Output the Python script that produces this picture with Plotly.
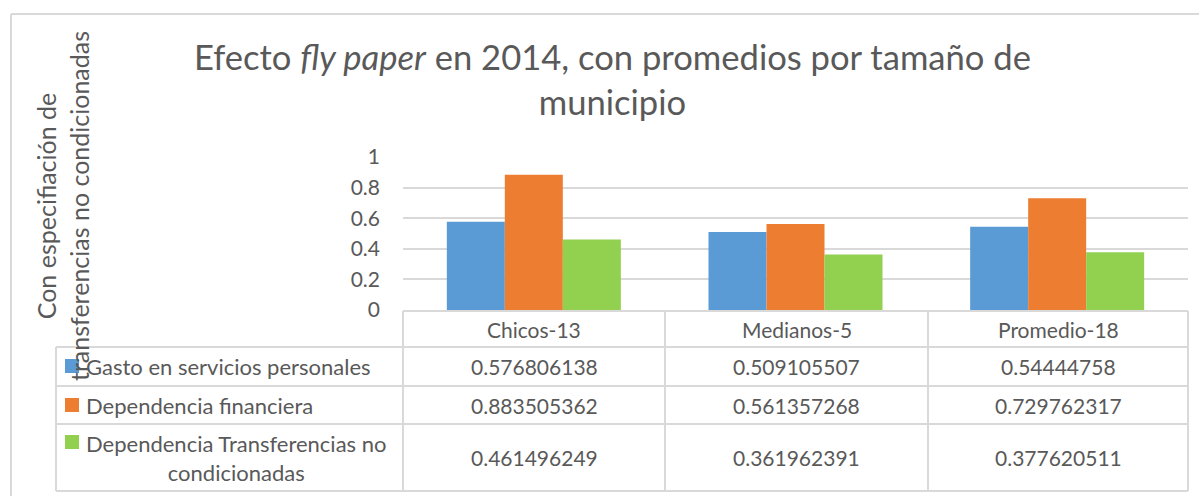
import plotly.graph_objects as go

categories = ["Chicos-13", "Medianos-5", "Promedio-18"]
series_names = [
    "Gasto en servicios personales",
    "Dependencia financiera",
    "Dependencia Transferencias no<br>condicionadas",
]
gasto = [0.576806138, 0.509105507, 0.54444758]
dependencia = [0.883505362, 0.561357268, 0.729762317]
transferencias = [0.461496249, 0.361962391, 0.377620511]
colors = ["#5B9BD5", "#ED7D31", "#92D050"]
y_ticks = [0, 0.2, 0.4, 0.6, 0.8, 1]
y_tick_text = ["0", "0.2", "0.4", "0.6", "0.8", "1"]

W, H = 1199, 496
FONT = "Lato, Carlito, Calibri, sans-serif"
GREY = "#595959"
LINE = "#d9d9d9"


def px(x):
    return x / W


def py(y):
    return 1 - y / H


series_values = [gasto, dependencia, transferencias]

fig = go.Figure()
for name, vals, col in zip(series_names, series_values, colors):
    fig.add_trace(go.Bar(
        x=categories, y=vals, name=name.replace("<br>", " "),
        marker=dict(color=col, line=dict(width=0)),
        showlegend=False,
    ))

plot_left, plot_right = 403, 1188
plot_top, plot_bottom = 157, 310

fig.update_layout(
    width=W, height=H, autosize=False,
    margin=dict(l=0, r=0, t=0, b=0, pad=0, autoexpand=False),
    paper_bgcolor="white", plot_bgcolor="white",
    barmode="group", bargap=0.335, bargroupgap=0,
    showlegend=False,
    font=dict(family=FONT, color=GREY),
    xaxis=dict(domain=[px(plot_left), px(plot_right)], range=[-0.5, 2.5],
               showticklabels=False, showgrid=False, zeroline=False,
               showline=False, ticks="", automargin=False),
    yaxis=dict(domain=[py(plot_bottom), py(plot_top)], range=[0, 1],
               tickvals=y_ticks, ticktext=y_tick_text,
               tickfont=dict(size=21, color=GREY, family=FONT),
               ticklabelstandoff=22, automargin=False,
               showgrid=True, gridcolor=LINE, gridwidth=2,
               zeroline=False, showline=False, ticks=""),
)

shapes = []


def hline(y, x0, x1):
    shapes.append(dict(type="line", xref="paper", yref="paper",
                       x0=px(x0), x1=px(x1), y0=py(y), y1=py(y),
                       line=dict(color=LINE, width=2)))


def vline(x, y0, y1):
    shapes.append(dict(type="line", xref="paper", yref="paper",
                       x0=px(x), x1=px(x), y0=py(y0), y1=py(y1),
                       line=dict(color=LINE, width=2)))


# outer chart border (left and top)
shapes.append(dict(type="line", xref="paper", yref="paper",
                   x0=px(11), x1=px(11), y0=py(14), y1=py(496),
                   line=dict(color=LINE, width=2)))
shapes.append(dict(type="line", xref="paper", yref="paper",
                   x0=px(11), x1=px(1199), y0=py(14), y1=py(14),
                   line=dict(color=LINE, width=2)))

# data table grid
table_left = 56
col_edges = [403, 665, 928, 1188]
row_edges = [311, 347, 386, 424, 491]
hline(row_edges[0], col_edges[0], col_edges[-1])
for y in row_edges[1:]:
    hline(y, table_left, col_edges[-1])
vline(table_left, row_edges[1], row_edges[-1])
for x in col_edges:
    vline(x, row_edges[0], row_edges[-1])

annotations = []

# title
annotations.append(dict(
    text="Efecto <i>fly paper</i> en 2014, con promedios por tamaño de<br>municipio",
    xref="paper", yref="paper", x=px(612), y=py(79),
    xanchor="center", yanchor="middle", showarrow=False, align="center",
    font=dict(size=34.6, color=GREY, family=FONT),
))

# y-axis title
annotations.append(dict(
    text="Con especifiación de<br>transferencias no condicionadas",
    xref="paper", yref="paper", x=px(63), y=py(206),
    xanchor="center", yanchor="middle", showarrow=False, align="center",
    textangle=-90,
    font=dict(size=25, color=GREY, family=FONT),
))

# header row
for i, cat in enumerate(categories):
    cx = (col_edges[i] + col_edges[i + 1]) / 2
    annotations.append(dict(
        text=cat, xref="paper", yref="paper", x=px(cx),
        y=py((row_edges[0] + row_edges[1]) / 2),
        xanchor="center", yanchor="middle", showarrow=False,
        font=dict(size=21, color=GREY, family=FONT),
    ))

# series rows
key_first_line = [366, 405, 442]
for r, (name, vals, col) in enumerate(zip(series_names, series_values, colors)):
    top, bot = row_edges[r + 1], row_edges[r + 2]
    cy = (top + bot) / 2
    ky = key_first_line[r]
    shapes.append(dict(type="rect", xref="paper", yref="paper",
                       x0=px(65), x1=px(79), y0=py(ky - 7), y1=py(ky + 7),
                       fillcolor=col, line=dict(width=0)))
    annotations.append(dict(
        text=name, xref="paper", yref="paper", x=px(84), y=py(cy),
        xanchor="left", yanchor="middle", showarrow=False, align="center",
        font=dict(size=22, color=GREY, family=FONT),
    ))
    for i, v in enumerate(vals):
        cx = (col_edges[i] + col_edges[i + 1]) / 2
        annotations.append(dict(
            text=str(v), xref="paper", yref="paper", x=px(cx), y=py(cy),
            xanchor="center", yanchor="middle", showarrow=False,
            font=dict(size=21, color=GREY, family=FONT),
        ))

fig.update_layout(shapes=shapes, annotations=annotations)
fig.write_html("out.html", config={"displayModeBar": False},
               post_script="document.body.style.margin='0';")
